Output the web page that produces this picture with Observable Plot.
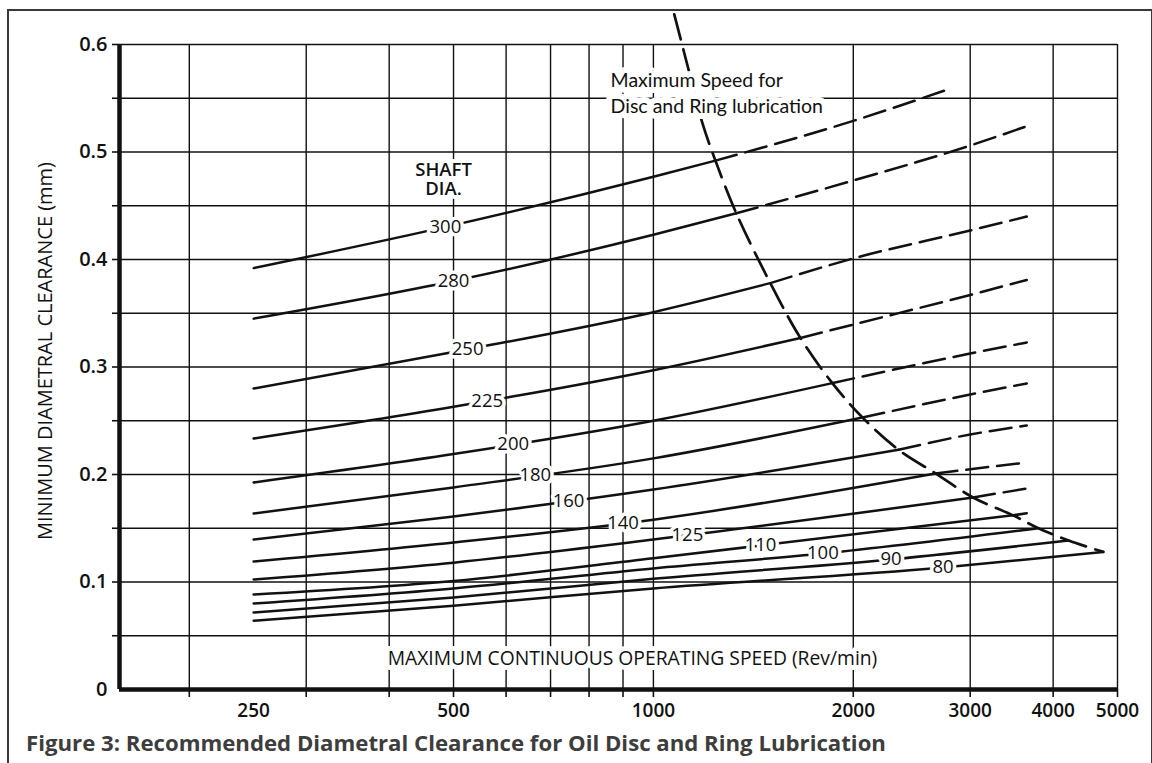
<!DOCTYPE html>
<html>
<head>
<meta charset="utf-8">
<script src="https://cdn.jsdelivr.net/npm/d3@7"></script>
<script src="https://cdn.jsdelivr.net/npm/@observablehq/plot@0.6"></script>
<style>
  html, body { margin: 0; padding: 0; background: #fff; }
  body { width: 1152px; height: 763px; overflow: hidden; position: relative; font-family: "Open Sans", sans-serif; }
  #frame { position: absolute; left: 7px; top: 9px; width: 1146px; height: 820px; border: 2px solid #3a3a3a; box-sizing: border-box; }
  #chart { position: absolute; left: 0; top: 0; }
  #caption { position: absolute; left: 26px; top: 732px; font: 700 22.2px/1 "Open Sans", sans-serif; color: #3d3d3d; white-space: nowrap; }
</style>
</head>
<body>
<div id="frame"></div>
<div id="chart"></div>
<div id="caption">Figure 3: Recommended Diametral Clearance for Oil Disc and Ring Lubrication</div>
<script>
// ---------------- data ----------------
const shaftDia = [300, 280, 250, 225, 200, 180, 160, 140, 125, 110, 100, 90, 80];

// [speed rev/min, min. diametral clearance mm]
const shaft300 = [[250, 0.392], [500, 0.432], [1000, 0.477], [1240, 0.492], [2000, 0.529], [2800, 0.559]];
const shaft280 = [[250, 0.345], [500, 0.380], [1000, 0.423], [1333, 0.443], [2000, 0.4735], [3000, 0.506], [3650, 0.524]];
const shaft250 = [[250, 0.280], [500, 0.314], [1000, 0.351], [1500, 0.378], [2000, 0.401], [3000, 0.427], [3650, 0.440]];
const shaft225 = [[250, 0.2335], [500, 0.263], [1000, 0.297], [1665, 0.327], [2000, 0.3395], [3000, 0.367], [3650, 0.381]];
const shaft200 = [[250, 0.1926], [500, 0.219], [1000, 0.250], [1860, 0.285], [3000, 0.3125], [3650, 0.3228]];
const shaft180 = [[250, 0.1637], [500, 0.188], [1000, 0.215], [2065, 0.253], [3000, 0.2744], [3650, 0.2847]];
const shaft160 = [[250, 0.1395], [500, 0.161], [1000, 0.186], [2340, 0.223], [3000, 0.2372], [3650, 0.2456]];
const shaft140 = [[250, 0.119], [500, 0.1367], [1000, 0.158], [2660, 0.201], [3650, 0.2112]];
const shaft125 = [[250, 0.1023], [500, 0.118], [1000, 0.1395], [3030, 0.1786], [3650, 0.187]];
const shaft110 = [[250, 0.0884], [500, 0.101], [1000, 0.122], [3480, 0.162], [3650, 0.164]];
const shaft100 = [[250, 0.080], [500, 0.094], [1000, 0.1126], [1800, 0.1265], [3800, 0.150]];
const shaft90  = [[250, 0.0716], [500, 0.0856], [1000, 0.103], [2280, 0.121], [4220, 0.1386]];
const shaft80  = [[250, 0.064], [500, 0.078], [1000, 0.094], [2730, 0.1135], [4760, 0.128]];
const shaftCurves = [shaft300, shaft280, shaft250, shaft225, shaft200, shaft180, shaft160, shaft140, shaft125, shaft110, shaft100, shaft90, shaft80];

// speed where each curve meets the "maximum speed" line (solid before, dashed after)
const limitSpeed = [1240, 1333, 1500, 1665, 1860, 2065, 2340, 2660, 3030, 3480, 3800, 4220, 4760];
// upper part of the maximum-speed line, above the 300 mm curve
const maxSpeedTop = [[1075, 0.628], [1126, 0.580], [1185, 0.527]];

// where the diameter labels sit along each curve (rev/min)
const labelSpeed = [486, 500, 525, 562, 615, 664, 745, 900, 1125, 1450, 1800, 2280, 2730];

// axes
const gridSpeeds = [200, 300, 400, 500, 600, 700, 800, 900, 1000, 2000, 3000, 4000, 5000];
const xTickLabels = [250, 500, 1000, 2000, 3000, 4000, 5000];
const gridClear = [0.05, 0.1, 0.15, 0.2, 0.25, 0.3, 0.35, 0.4, 0.45, 0.5, 0.55, 0.6];
const yTickLabels = [0, 0.1, 0.2, 0.3, 0.4, 0.5, 0.6];
const xDomain = [157, 5000];
const yDomain = [0, 0.6];

// annotations
const yTitle = "MINIMUM DIAMETRAL CLEARANCE (mm)";
const xTitle = "MAXIMUM CONTINUOUS OPERATING SPEED (Rev/min)";
const xTitleAt = [930, 0.0288];
const shaftTitle = "SHAFT\nDIA.";
const shaftTitleAt = [483, 0.4745];
const noteText = "Maximum Speed for\nDisc and Ring lubrication";
const noteAt = [862, 0.5565];

// ---------------- build tables ----------------
function interpLog(pts, s) {
  for (let i = 0; i < pts.length - 1; i++) {
    const [s0, c0] = pts[i], [s1, c1] = pts[i + 1];
    if (s >= s0 && s <= s1) {
      const t = Math.log(s / s0) / Math.log(s1 / s0);
      return c0 + t * (c1 - c0);
    }
  }
  return pts[pts.length - 1][1];
}
const solid = [], dashed = [], labels = [], limitPts = [];
shaftCurves.forEach((pts, i) => {
  const dia = shaftDia[i], lim = limitSpeed[i];
  pts.forEach(([speed, clearance]) => {
    if (speed <= lim) solid.push({dia, speed, clearance});
    if (speed >= lim) dashed.push({dia, speed, clearance});
  });
  limitPts.push({speed: lim, clearance: interpLog(pts, lim)});
  labels.push({dia, speed: labelSpeed[i], clearance: interpLog(pts, labelSpeed[i])});
});
const maxLine = maxSpeedTop.map(([speed, clearance]) => ({speed, clearance})).concat(limitPts);

const ink = "#111";
const chart = Plot.plot({
  width: 1152,
  height: 724,
  marginLeft: 119,
  marginRight: 35,
  marginTop: 44,
  marginBottom: 35,
  style: {fontFamily: "'Open Sans', sans-serif", background: "transparent", color: ink},
  x: {type: "log", domain: xDomain},
  y: {domain: yDomain},
  marks: [
    Plot.ruleX(gridSpeeds, {stroke: ink, strokeWidth: 1.4}),
    Plot.ruleY(gridClear, {stroke: ink, strokeWidth: 1.4}),
    // tick marks
    Plot.axisY(gridClear, {tickSize: 7, tickFormat: () => "", label: null, stroke: ink, strokeWidth: 1.6}),
    Plot.axisX(gridSpeeds, {tickSize: 8, tickFormat: () => "", label: null, stroke: ink, strokeWidth: 1.6}),
    // tick labels
    Plot.axisY(yTickLabels, {tickSize: 0, tickPadding: 12, label: null, fontSize: 20, fontWeight: 600,
      tickFormat: d => d === 0 ? "0" : d.toFixed(1)}),
    Plot.axisX(xTickLabels, {tickSize: 0, tickPadding: 14, label: null, fontSize: 19, fontWeight: 600,
      tickFormat: d => String(d)}),
    // heavy axis lines
    Plot.ruleX([xDomain[0]], {stroke: ink, strokeWidth: 4.5, y1: yDomain[0], y2: yDomain[1]}),
    Plot.ruleY([yDomain[0]], {stroke: ink, strokeWidth: 4.5}),
    // x title inside the plot
    Plot.text([xTitle], {x: () => xTitleAt[0], y: () => xTitleAt[1], text: d => d, fontSize: 19.3,
      fill: ink, stroke: "white", strokeWidth: 10, paintOrder: "stroke"}),
    // shaft curves
    Plot.line(solid, {x: "speed", y: "clearance", z: "dia", stroke: ink, strokeWidth: 2.5, curve: "monotone-x"}),
    Plot.line(dashed, {x: "speed", y: "clearance", z: "dia", stroke: ink, strokeWidth: 2.5, curve: "monotone-x",
      strokeDasharray: "22,9"}),
    // maximum-speed line
    Plot.line(maxLine, {x: "speed", y: "clearance", stroke: ink, strokeWidth: 2.7, curve: "catmull-rom",
      strokeDasharray: "26,10"}),
    // curve labels
    Plot.text(labels, {x: "speed", y: "clearance", text: d => String(d.dia), fontSize: 18.5,
      fill: ink, stroke: "white", strokeWidth: 7, paintOrder: "stroke"}),
    Plot.text([shaftTitle], {x: () => shaftTitleAt[0], y: () => shaftTitleAt[1], text: d => d, fontSize: 18.5,
      fontWeight: 600, lineHeight: 1.05, fill: ink, stroke: "white", strokeWidth: 8, paintOrder: "stroke"}),
    Plot.text([noteText], {x: () => noteAt[0], y: () => noteAt[1], text: d => d, textAnchor: "start",
      fontFamily: "Lato, sans-serif", fontSize: 19.5, lineHeight: 1.33, fill: ink,
      stroke: "white", strokeWidth: 12, paintOrder: "stroke"}),
    // y title
    Plot.text([yTitle], {frameAnchor: "left", textAnchor: "middle", rotate: -90, dx: -74, dy: -16, text: d => d,
      fontSize: 20, fill: ink})
  ]
});
document.getElementById("chart").appendChild(chart);
</script>
</body>
</html>
